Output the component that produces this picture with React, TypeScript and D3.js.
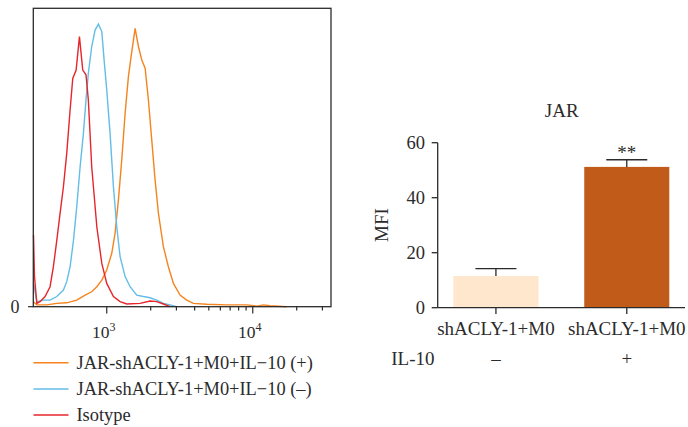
import * as d3 from 'd3';

// flow histogram, fluorescence (log) vs normalised count
const isoX = [315, 320, 332, 349, 378, 409, 431, 455, 479, 505, 532, 561, 585, 617, 650, 685, 721, 748, 789, 855, 925, 1000, 1111, 1234, 1371, 1691, 1981, 2199, 2443, 2715];
const isoY = [24, 10.1, 1.1, 1.7, 3.4, 6.7, 13.4, 22.3, 31.3, 40.2, 51.4, 65.9, 76.5, 79.3, 90.5, 79.3, 77.7, 69.3, 46.9, 26.8, 14.5, 7.8, 3.4, 1.7, 0.9, 1.1, 1.9, 1.7, 0.9, 0];

const negX = [315, 332, 368, 409, 455, 505, 532, 561, 592, 623, 657, 692, 721, 748, 789, 832, 877, 925, 959, 1000, 1054, 1111, 1171, 1234, 1336, 1445, 1604, 1782, 1981, 2199, 2443, 2715, 3014];
const negY = [7.8, 1.7, 2.2, 2.2, 3.4, 5.6, 8.4, 13.4, 22.3, 33.5, 46.9, 58.1, 69.3, 78.2, 87.2, 92.7, 94.7, 92.2, 82.7, 72.6, 58.1, 40.2, 26.8, 16.8, 10.1, 6.7, 3.9, 3.4, 3.0, 2.2, 1.1, 0.6, 0];

const posX = [315, 332, 388, 455, 532, 623, 711, 789, 855, 925, 1000, 1082, 1140, 1202, 1267, 1336, 1407, 1468, 1564, 1648, 1738, 1832, 1929, 2033, 2143, 2259, 2443, 2643, 2862, 3177, 3529, 3923, 4842, 6637, 9101, 10650, 11820, 13140, 17100];
const posY = [1.7, 0.6, 0.6, 1.1, 1.3, 2.2, 3.9, 5.0, 6.7, 8.9, 12.3, 17.9, 24.6, 35.8, 49.2, 64.8, 77.1, 83.8, 93.3, 87.2, 82.7, 79.9, 69.3, 55.9, 42.5, 31.3, 20.1, 13.4, 7.8, 3.9, 2.2, 1.1, 0.8, 0.6, 0.6, 0.2, 0.6, 0.3, 0];

const legendLabels = ['JAR-shACLY-1+M0+IL\u221210 (+)', 'JAR-shACLY-1+M0+IL\u221210 (\u2013)', 'Isotype'];
const lineColors = ['#f5841f', '#63bde6', '#e6262b'];

// bar chart
const barLabels = ['shACLY-1+M0', 'shACLY-1+M0'];
const il10 = ['\u2013', '+'];
const barMeans = [11.5, 51.2];
const barErr = [2.7, 2.6];
const barColors = ['#fee7cd', '#c05b19'];
const yTicks = [0, 20, 40, 60];

const FONT = '"Liberation Serif", "Times New Roman", serif';
const INK = '#2b2b2b';

export default function App() {
  const hx = d3.scaleLog().domain([314, 34350]).range([33.3, 331]);
  const hy = d3.scaleLinear().domain([0, 100]).range([306.7, 8.3]);
  const line = d3
    .line<[number, number]>()
    .x((d) => hx(d[0]))
    .y((d) => hy(d[1]));
  const series = [
    d3.zip(posX, posY) as [number, number][],
    d3.zip(negX, negY) as [number, number][],
    d3.zip(isoX, isoY) as [number, number][]
  ];
  const minorTicks = [2000, 3000, 4000, 5000, 6000, 7000, 8000, 9000, 20000, 30000];
  const majorTicks = [1000, 10000];

  const bx = d3.scaleBand().domain(['a', 'b']).range([437.7, 685]).paddingInner(0.35).paddingOuter(0.12);
  const by = d3.scaleLinear().domain([0, 60]).range([307.7, 142.7]);
  const keys = ['a', 'b'];

  return (
    <svg width={688} height={427} style={{ position: 'absolute', left: 0, top: 0, background: '#fff' }} fontFamily={FONT}>
      {/* histogram */}
      {series.map((s, i) => (
        <path key={i} d={line(s) || ''} fill="none" stroke={lineColors[i]} strokeWidth={1.4} />
      ))}
      <rect x={33.3} y={8.3} width={331 - 33.3} height={306.7 - 8.3} fill="none" stroke={INK} strokeWidth={1.3} />
      {minorTicks.map((t) => (
        <line key={t} x1={hx(t)} x2={hx(t)} y1={306.7} y2={310.5} stroke={INK} strokeWidth={1.2} />
      ))}
      {majorTicks.map((t, i) => (
        <g key={t}>
          <line x1={hx(t)} x2={hx(t)} y1={306.7} y2={313.5} stroke={INK} strokeWidth={1.2} />
          <text x={hx(t) - 3} y={338} textAnchor="middle" fontSize={17.5} fill={INK}>
            10
            <tspan dy={-7} fontSize={12}>{i === 0 ? '3' : '4'}</tspan>
          </text>
        </g>
      ))}
      <line x1={28} x2={33.3} y1={306.7} y2={306.7} stroke={INK} strokeWidth={1.2} />
      <text x={15} y={312.5} textAnchor="middle" fontSize={18} fill={INK}>0</text>

      {legendLabels.map((l, i) => (
        <g key={l}>
          <line x1={33.5} x2={68.5} y1={362.7 + i * 26.2} y2={362.7 + i * 26.2} stroke={lineColors[i]} strokeWidth={1.5} />
          <text x={76.5} y={368.5 + i * 26.2} fontSize={18.4} fill={INK}>{l}</text>
        </g>
      ))}

      {/* bar chart */}
      <text x={561.7} y={116.5} textAnchor="middle" fontSize={19} fill={INK}>JAR</text>
      <text transform="translate(387.5,225) rotate(-90)" textAnchor="middle" fontSize={19} fill={INK}>MFI</text>
      {keys.map((k, i) => {
        const x0 = bx(k) as number;
        const cx = x0 + bx.bandwidth() / 2;
        const top = by(barMeans[i] + barErr[i]);
        return (
          <g key={k}>
            <rect x={x0} y={by(barMeans[i])} width={bx.bandwidth()} height={by(0) - by(barMeans[i])} fill={barColors[i]} />
            <line x1={cx} x2={cx} y1={by(barMeans[i])} y2={top} stroke={INK} strokeWidth={1.3} />
            <line x1={cx - 20.5} x2={cx + 20.5} y1={top} y2={top} stroke={INK} strokeWidth={1.3} />
            <line x1={cx} x2={cx} y1={307.7} y2={314} stroke={INK} strokeWidth={1.3} />
            <text x={cx} y={335} textAnchor="middle" fontSize={19} fill={INK}>{barLabels[i]}</text>
            <text x={cx} y={365} textAnchor="middle" fontSize={19} fill={INK}>{il10[i]}</text>
            {i === 1 ? (
              <text x={cx} y={top - 0.5} textAnchor="middle" fontSize={19} fill={INK}>**</text>
            ) : null}
          </g>
        );
      })}
      <line x1={437.7} x2={437.7} y1={142.7} y2={307.7} stroke={INK} strokeWidth={1.3} />
      <line x1={437.7} x2={685} y1={307.7} y2={307.7} stroke={INK} strokeWidth={1.3} />
      {yTicks.map((t) => (
        <g key={t}>
          <line x1={431.7} x2={437.7} y1={by(t)} y2={by(t)} stroke={INK} strokeWidth={1.3} />
          <text x={425} y={by(t) + 6} textAnchor="end" fontSize={18.5} fill={INK}>{t}</text>
        </g>
      ))}
      <text x={434.5} y={365} textAnchor="end" fontSize={19} fill={INK}>IL-10</text>
    </svg>
  );
}
